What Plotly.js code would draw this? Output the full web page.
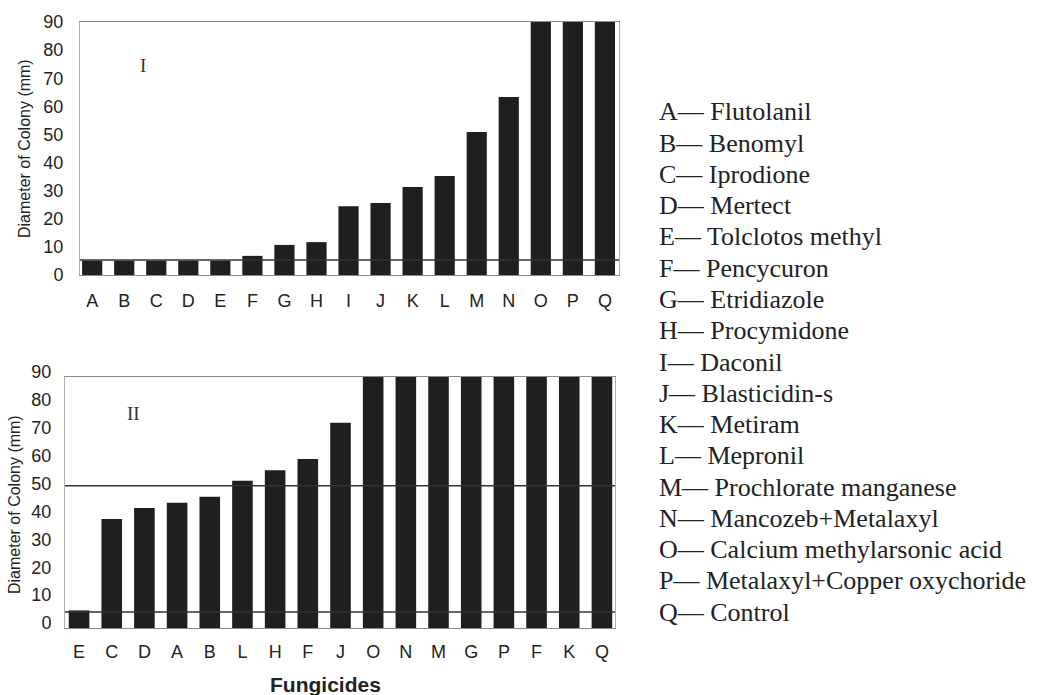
<!DOCTYPE html>
<html>
<head>
<meta charset="utf-8">
<script src="https://cdn.plot.ly/plotly-3.0.1.min.js"></script>
<style>html,body{margin:0;padding:0;background:#fff;}#chart{width:1044px;height:695px;}</style>
</head>
<body>
<div id="chart"></div>
<script>
// ---- data ----
const topLabels = ['A','B','C','D','E','F','G','H','I','J','K','L','M','N','O','P','Q'];
const topValues = [5.1,5.1,5.1,5.1,5.1,6.8,10.7,11.7,24.5,25.6,31.3,35.2,50.9,63.3,90,90,90];
const topRefLines = [5.3];

const bottomLabels = ['E','C','D','A','B','L','H','F','J','O','N','M','G','P','F','K','Q'];
const bottomValues = [6.3,39.1,43.0,44.9,47.1,52.8,56.6,60.6,73.6,90,90,90,90,90,90,90,90];
const bottomRefLines = [51, 5.7];

const yTicks = [0,10,20,30,40,50,60,70,80,90];

const legendLetters = ['A','B','C','D','E','F','G','H','I','J','K','L','M','N','O','P','Q'];
const legendNames = ['Flutolanil','Benomyl','Iprodione','Mertect','Tolclotos methyl','Pencycuron',
  'Etridiazole','Procymidone','Daconil','Blasticidin-s','Metiram','Mepronil','Prochlorate manganese',
  'Mancozeb+Metalaxyl','Calcium methylarsonic acid','Metalaxyl+Copper oxychoride','Control'];

const yTitle = 'Diameter of Colony (mm)';
const xTitle = 'Fungicides';
const panelNames = ['I', 'II'];

// ---- layout helpers ----
const W = 1044, H = 695;
const px = v => v / W;
const py = v => 1 - v / H;
const sans = 'Liberation Sans, Arial, sans-serif';
const serif = 'Liberation Serif, Times New Roman, serif';
const barColor = '#1f1f1f';

const topIdx = topLabels.map((_, i) => i);
const botIdx = bottomLabels.map((_, i) => i);

const traces = [
  {type:'bar', x: topIdx, y: topValues, xaxis:'x', yaxis:'y', width:0.63,
   marker:{color:barColor, line:{width:0}}, hoverinfo:'x+y'},
  {type:'bar', x: botIdx, y: bottomValues, xaxis:'x2', yaxis:'y2', width:0.63,
   marker:{color:barColor, line:{width:0}}, hoverinfo:'x+y'}
];

const xCommon = {
  showgrid:false, zeroline:false, showline:true, mirror:true, linecolor:'#8a8a8a', linewidth:1,
  ticks:'', tickfont:{family:sans, size:18, color:'#222'}, fixedrange:true
};
const yCommon = {
  showgrid:false, zeroline:false, showline:true, mirror:true, linecolor:'#b0b0b0', linewidth:1,
  ticks:'', tickvals:yTicks, ticktext:yTicks.map(String), range:[0,90],
  tickfont:{family:sans, size:18, color:'#222'}, fixedrange:true
};

const shapes = [];
topRefLines.forEach(v => shapes.push({type:'line', xref:'x domain', yref:'y', x0:0, x1:1, y0:v, y1:v,
  line:{color:'#333', width:1.5}, layer:'above'}));
bottomRefLines.forEach(v => shapes.push({type:'line', xref:'x2 domain', yref:'y2', x0:0, x1:1, y0:v, y1:v,
  line:{color:'#333', width:1.5}, layer:'above'}));

const annotations = [];
// y titles
annotations.push({text:yTitle, xref:'paper', yref:'paper', x:px(25), y:py(149), textangle:-90,
  showarrow:false, xanchor:'center', yanchor:'middle', font:{family:sans, size:16, color:'#222'}});
annotations.push({text:yTitle, xref:'paper', yref:'paper', x:px(14), y:py(505), textangle:-90,
  showarrow:false, xanchor:'center', yanchor:'middle', font:{family:sans, size:16, color:'#222'}});
// x title
annotations.push({text:'<b>' + xTitle + '</b>', xref:'paper', yref:'paper', x:px(325), y:py(684),
  showarrow:false, xanchor:'center', yanchor:'middle', font:{family:sans, size:21, color:'#222'}});
// panel numerals
annotations.push({text:panelNames[0], xref:'paper', yref:'paper', x:px(143), y:py(66),
  showarrow:false, xanchor:'center', yanchor:'middle', font:{family:serif, size:19, color:'#333'}});
annotations.push({text:panelNames[1], xref:'paper', yref:'paper', x:px(133), y:py(413),
  showarrow:false, xanchor:'center', yanchor:'middle', font:{family:serif, size:19, color:'#333'}});
// key
legendLetters.forEach((L, i) => {
  annotations.push({text: L + '\u2014 ' + legendNames[i], xref:'paper', yref:'paper',
    x:px(657), y:py(112 + 31.25 * i), showarrow:false, xanchor:'left', yanchor:'middle',
    font:{family:serif, size:26, color:'#222'}});
});

const layout = {
  width:W, height:H, margin:{l:0, r:0, t:0, b:0}, paper_bgcolor:'#fff', plot_bgcolor:'#fff',
  showlegend:false, bargap:0.37,
  xaxis: Object.assign({}, xCommon, {domain:[px(80), px(619)], anchor:'y', range:[-0.38, 16.44],
    tickvals: topIdx, ticktext: topLabels, ticklabelstandoff:9}),
  yaxis: Object.assign({}, yCommon, {domain:[py(275), py(22)], anchor:'x', ticklabelstandoff:12}),
  xaxis2: Object.assign({}, xCommon, {domain:[px(65), px(615)], anchor:'y2', range:[-0.43, 16.4],
    tickvals: botIdx, ticktext: bottomLabels, ticklabelstandoff:7}),
  yaxis2: Object.assign({}, yCommon, {domain:[py(628), py(377)], anchor:'x2', ticklabelstandoff:9,
    ticklabelshift:-5}),
  shapes: shapes,
  annotations: annotations
};

Plotly.newPlot('chart', traces, layout, {displayModeBar:false, staticPlot:true});
</script>
</body>
</html>
